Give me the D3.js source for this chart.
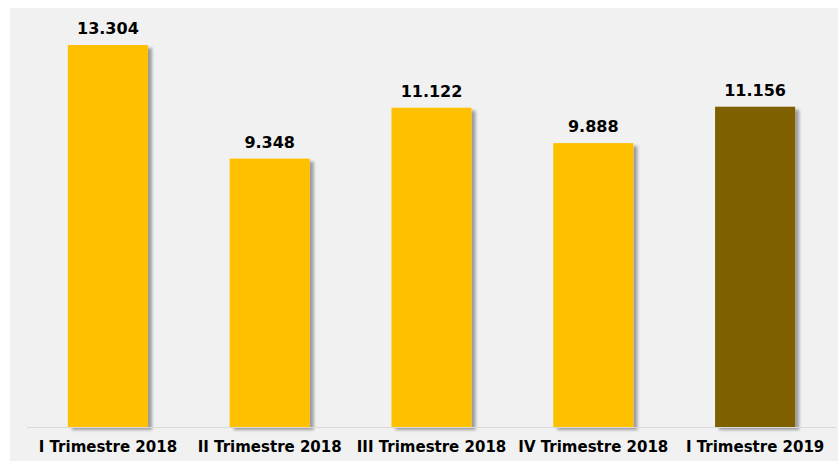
<!DOCTYPE html>
<html>
<head>
<meta charset="utf-8">
<script src="https://cdn.jsdelivr.net/npm/d3@7"></script>
<style>
  body { margin: 0; background: #fff; }
  svg { display: block; }
</style>
</head>
<body>
<svg id="chart" width="839" height="461"></svg>
<script>
// categorías y valores
const categories = ['I Trimestre 2018', 'II Trimestre 2018', 'III Trimestre 2018', 'IV Trimestre 2018', 'I Trimestre 2019']
const values = [13.304, 9.348, 11.122, 9.888, 11.156]
const labels = ['13.304', '9.348', '11.122', '9.888', '11.156']
const barColors = ['#FFC000', '#FFC000', '#FFC000', '#FFC000', '#7F6000']

const svg = d3.select('#chart')

// fondo gris
svg.append('rect')
    .attr('x', 10).attr('y', 8)
    .attr('width', 828).attr('height', 453)
    .attr('fill', '#F1F1F1')

// sombra de las barras
const defs = svg.append('defs')
defs.append('filter')
    .attr('id', 'shadow')
    .attr('x', '-10%').attr('y', '-10%')
    .attr('width', '130%').attr('height', '120%')
    .append('feDropShadow')
    .attr('dx', 4).attr('dy', 3)
    .attr('stdDeviation', 1.5)
    .attr('flood-color', '#000')
    .attr('flood-opacity', 0.35)

const x = d3.scaleBand()
    .domain(categories)
    .range([27, 836])
    .paddingInner(0.505)
    .paddingOuter(0.2525)

const y = d3.scaleLinear()
    .domain([0, 14])
    .range([427, 427 - 14 * 28.71])

const data = categories.map((c, i) => ({ cat: c, value: values[i], label: labels[i], color: barColors[i] }))

// barras
svg.append('g').selectAll('rect')
    .data(data)
    .join('rect')
    .attr('x', (d) => x(d.cat))
    .attr('y', (d) => y(d.value))
    .attr('width', x.bandwidth())
    .attr('height', (d) => y(0) - y(d.value))
    .attr('fill', (d) => d.color)
    .attr('filter', 'url(#shadow)')

// línea base
svg.append('line')
    .attr('x1', 27).attr('x2', 836)
    .attr('y1', y(0) + 0.5).attr('y2', y(0) + 0.5)
    .attr('stroke', '#D9D9D9')
    .attr('stroke-width', 1)

// etiquetas de valor
svg.append('g').selectAll('text')
    .data(data)
    .join('text')
    .text((d) => d.label)
    .attr('x', (d) => x(d.cat) + x.bandwidth() / 2)
    .attr('y', (d) => y(d.value) - 11)
    .attr('text-anchor', 'middle')
    .attr('font-family', 'Verdana, "DejaVu Sans", sans-serif')
    .attr('font-weight', 'bold')
    .attr('font-size', '16px')
    .attr('fill', '#000')

// eje x
const xAxis = svg.append('g')
    .attr('transform', `translate(0, ${y(0)})`)
    .call(d3.axisBottom(x).tickSize(0).tickPadding(14))
xAxis.select('.domain').remove()
xAxis.selectAll('text')
    .attr('font-family', 'Verdana, "DejaVu Sans", sans-serif')
    .attr('font-weight', 'bold')
    .attr('font-size', '15px')
    .attr('fill', '#000')
</script>
</body>
</html>
